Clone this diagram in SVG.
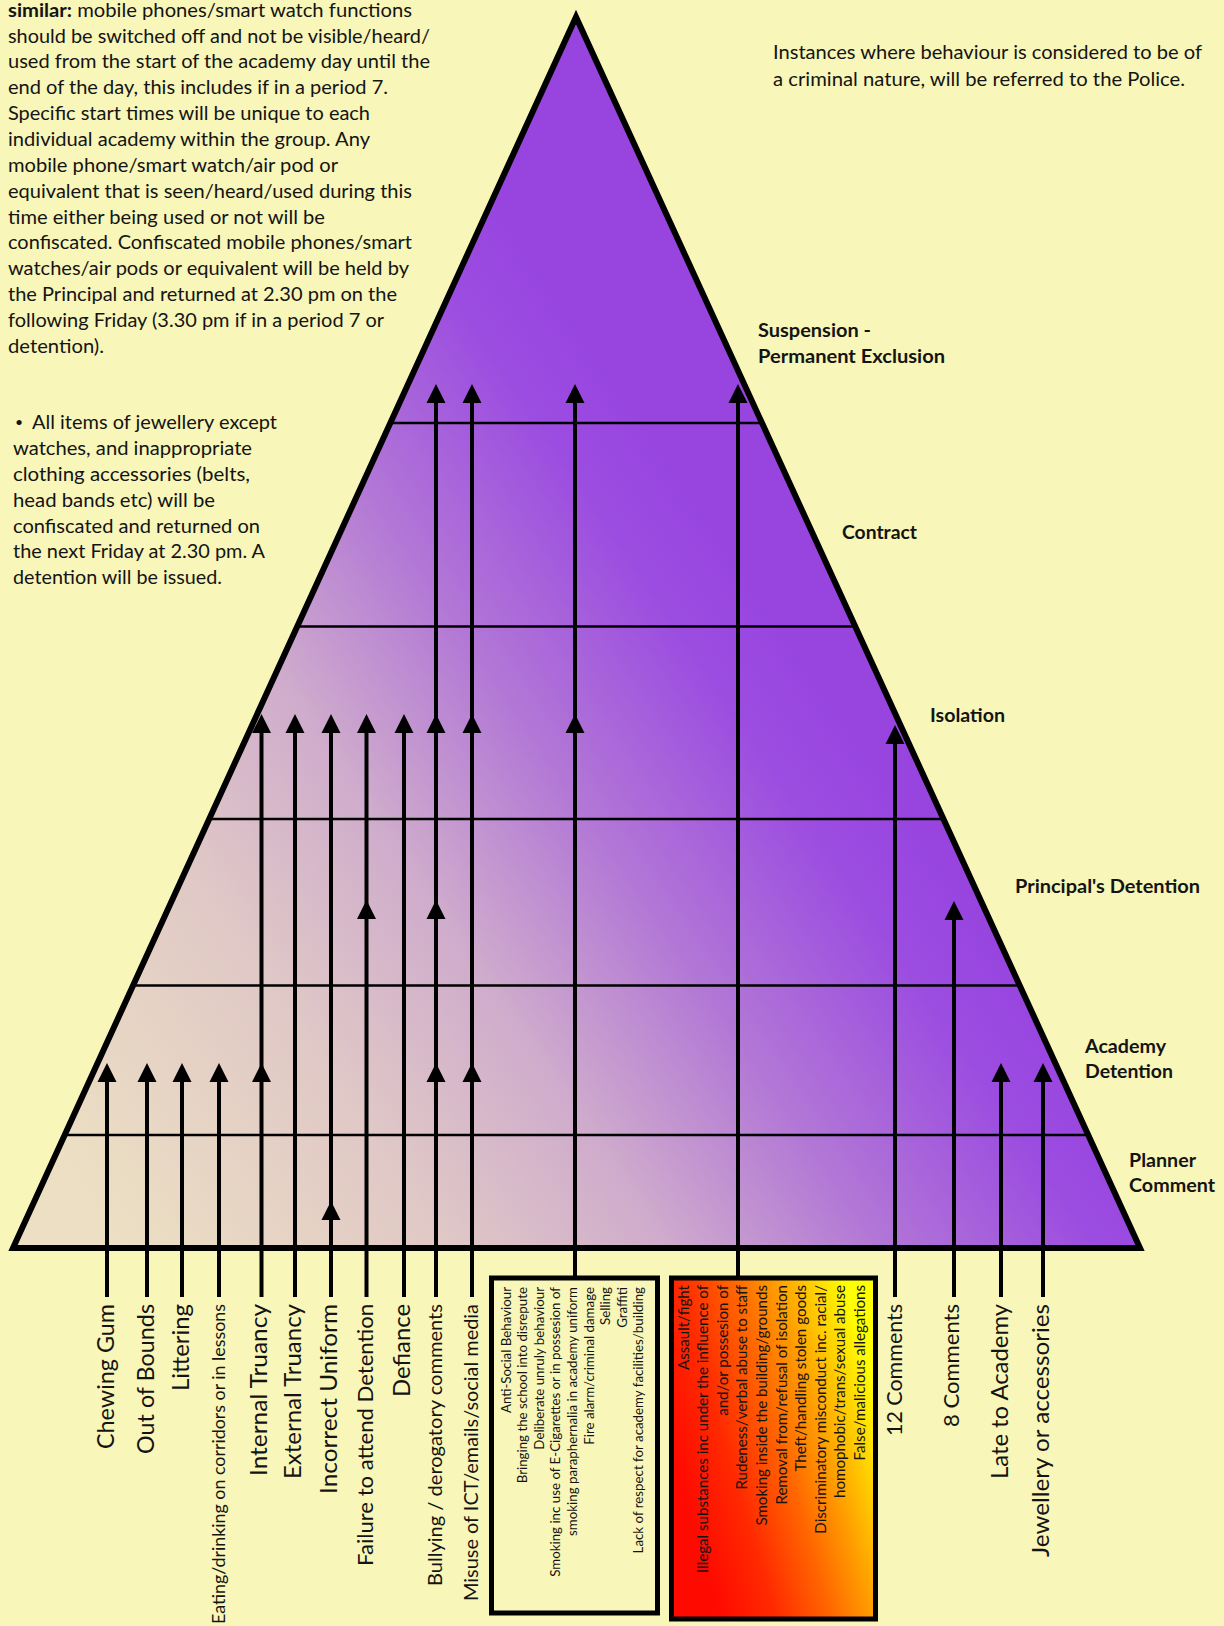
<svg xmlns="http://www.w3.org/2000/svg" xmlns:xlink="http://www.w3.org/1999/xlink" width="1224" height="1626" viewBox="0 0 1224 1626">
<style>
.t{font-family:Lato,'Liberation Sans',sans-serif;fill:#141414}
.p{font-size:19.5px}
.b{font-size:19.5px;font-weight:bold}
.v{text-anchor:end}
.big{font-size:23.7px}
.s1{font-size:13.3px}
.s2{font-size:15.1px}
.lvl{fill:none;stroke:#000;stroke-width:2.5}
.con line{stroke:#000;stroke-width:4}
.box{stroke:#000;stroke-width:5}
</style>
<defs>
<linearGradient id="pyr" gradientUnits="userSpaceOnUse" x1="60" y1="1150" x2="800" y2="650">
<stop offset="0" stop-color="#ecdfc3"/>
<stop offset="0.3" stop-color="#e0c8c6"/>
<stop offset="0.5" stop-color="#cfaccc"/>
<stop offset="0.7" stop-color="#b277d6"/>
<stop offset="0.9" stop-color="#9c4de0"/>
<stop offset="1" stop-color="#9845e0"/>
</linearGradient>
<linearGradient id="hot" gradientUnits="userSpaceOnUse" x1="671" y1="1450" x2="876" y2="1390">
<stop offset="0" stop-color="#ff0a00"/>
<stop offset="0.25" stop-color="#ff2a00"/>
<stop offset="0.5" stop-color="#ff6600"/>
<stop offset="0.7" stop-color="#ffa000"/>
<stop offset="0.85" stop-color="#ffd000"/>
<stop offset="1" stop-color="#ffff00"/>
</linearGradient>
<path id="ah" d="M0 0 L9.5 19 L-9.5 19 Z" fill="#000"/>
</defs>
<rect width="1224" height="1626" fill="#f8f6b8"/>

<g id="notes" class="t">
<text class="p" x="8" y="16.7" textLength="404" lengthAdjust="spacingAndGlyphs"><tspan font-weight="bold">similar:</tspan> mobile phones/smart watch functions</text>
<text class="p" x="8" y="42.55" textLength="422" lengthAdjust="spacingAndGlyphs">should be switched off and not be visible/heard/</text>
<text class="p" x="8" y="68.4" textLength="422" lengthAdjust="spacingAndGlyphs">used from the start of the academy day until the</text>
<text class="p" x="8" y="94.25" textLength="380" lengthAdjust="spacingAndGlyphs">end of the day, this includes if in a period 7.</text>
<text class="p" x="8" y="120.1" textLength="362" lengthAdjust="spacingAndGlyphs">Specific start times will be unique to each</text>
<text class="p" x="8" y="145.95" textLength="362" lengthAdjust="spacingAndGlyphs">individual academy within the group. Any</text>
<text class="p" x="8" y="171.8" textLength="330" lengthAdjust="spacingAndGlyphs">mobile phone/smart watch/air pod or</text>
<text class="p" x="8" y="197.65" textLength="404" lengthAdjust="spacingAndGlyphs">equivalent that is seen/heard/used during this</text>
<text class="p" x="8" y="223.5" textLength="317" lengthAdjust="spacingAndGlyphs">time either being used or not will be</text>
<text class="p" x="8" y="249.35" textLength="404" lengthAdjust="spacingAndGlyphs">confiscated. Confiscated mobile phones/smart</text>
<text class="p" x="8" y="275.2" textLength="401" lengthAdjust="spacingAndGlyphs">watches/air pods or equivalent will be held by</text>
<text class="p" x="8" y="301.05" textLength="389" lengthAdjust="spacingAndGlyphs">the Principal and returned at 2.30 pm on the</text>
<text class="p" x="8" y="326.9" textLength="376" lengthAdjust="spacingAndGlyphs">following Friday (3.30 pm if in a period 7 or</text>
<text class="p" x="8" y="352.75" textLength="96" lengthAdjust="spacingAndGlyphs">detention).</text>

<text x="15" y="427" font-size="14">•</text>
<text class="p" x="32" y="429.3" textLength="245" lengthAdjust="spacingAndGlyphs">All items of jewellery except</text>
<text class="p" x="13" y="455.1" textLength="239" lengthAdjust="spacingAndGlyphs">watches, and inappropriate</text>
<text class="p" x="13" y="480.9" textLength="237" lengthAdjust="spacingAndGlyphs">clothing accessories (belts,</text>
<text class="p" x="13" y="506.7" textLength="202" lengthAdjust="spacingAndGlyphs">head bands etc) will be</text>
<text class="p" x="13" y="532.5" textLength="247" lengthAdjust="spacingAndGlyphs">confiscated and returned on</text>
<text class="p" x="13" y="558.3" textLength="252" lengthAdjust="spacingAndGlyphs">the next Friday at 2.30 pm. A</text>
<text class="p" x="13" y="584.1" textLength="209" lengthAdjust="spacingAndGlyphs">detention will be issued.</text>

<text class="p" x="773" y="59" textLength="429" lengthAdjust="spacingAndGlyphs">Instances where behaviour is considered to be of</text>
<text class="p" x="773" y="85.5" textLength="412" lengthAdjust="spacingAndGlyphs">a criminal nature, will be referred to the Police.</text>
</g>

<g id="pyramid">
<polygon points="576,17 13,1248 1140,1248" fill="url(#pyr)" stroke="#000" stroke-width="6" stroke-linejoin="miter"/>
<line class="lvl" x1="390.3" y1="423" x2="762" y2="423"/>
<line class="lvl" x1="297.2" y1="626.5" x2="855.3" y2="626.5"/>
<line class="lvl" x1="209.2" y1="819" x2="943.5" y2="819"/>
<line class="lvl" x1="133" y1="985.5" x2="1019.8" y2="985.5"/>
<line class="lvl" x1="64.6" y1="1135" x2="1088.3" y2="1135"/>
</g>

<g id="level-labels" class="t b">
<g id="lvl-suspension"><text x="758" y="336.7" textLength="113" lengthAdjust="spacingAndGlyphs">Suspension -</text>
<text x="758" y="362.7" textLength="187" lengthAdjust="spacingAndGlyphs">Permanent Exclusion</text></g>
<g id="lvl-contract"><text x="842" y="539" textLength="75" lengthAdjust="spacingAndGlyphs">Contract</text></g>
<g id="lvl-isolation"><text x="930" y="722.3" textLength="75" lengthAdjust="spacingAndGlyphs">Isolation</text></g>
<g id="lvl-principal"><text x="1015" y="892.7" textLength="185" lengthAdjust="spacingAndGlyphs">Principal's Detention</text></g>
<g id="lvl-academy"><text x="1085" y="1052.7" textLength="81" lengthAdjust="spacingAndGlyphs">Academy</text>
<text x="1085" y="1078.3" textLength="88" lengthAdjust="spacingAndGlyphs">Detention</text></g>
<g id="lvl-planner"><text x="1129" y="1166.7" textLength="67" lengthAdjust="spacingAndGlyphs">Planner</text>
<text x="1129" y="1191.7" textLength="86" lengthAdjust="spacingAndGlyphs">Comment</text></g>
</g>

<g id="connectors" class="con">
<line x1="107" y1="1297" x2="107" y2="1070"/>
<line x1="147" y1="1297" x2="147" y2="1070"/>
<line x1="182" y1="1297" x2="182" y2="1070"/>
<line x1="219" y1="1297" x2="219" y2="1070"/>
<line x1="261.5" y1="1297" x2="261.5" y2="721"/>
<line x1="295" y1="1297" x2="295" y2="721"/>
<line x1="331" y1="1297" x2="331" y2="721"/>
<line x1="366.5" y1="1297" x2="366.5" y2="721"/>
<line x1="404" y1="1297" x2="404" y2="721"/>
<line x1="436" y1="1297" x2="436" y2="391"/>
<line x1="472" y1="1297" x2="472" y2="391"/>
<line x1="575" y1="1278" x2="575" y2="391"/>
<line x1="738" y1="1278" x2="738" y2="391"/>
<line x1="895" y1="1297" x2="895" y2="732"/>
<line x1="954" y1="1297" x2="954" y2="908"/>
<line x1="1001" y1="1297" x2="1001" y2="1070"/>
<line x1="1043" y1="1297" x2="1043" y2="1070"/>
<use href="#ah" x="107" y="1063"/>
<use href="#ah" x="147" y="1063"/>
<use href="#ah" x="182" y="1063"/>
<use href="#ah" x="219" y="1063"/>
<use href="#ah" x="261.5" y="1063"/>
<use href="#ah" x="261.5" y="714"/>
<use href="#ah" x="295" y="714"/>
<use href="#ah" x="331" y="1201"/>
<use href="#ah" x="331" y="714"/>
<use href="#ah" x="366.5" y="900"/>
<use href="#ah" x="366.5" y="714"/>
<use href="#ah" x="404" y="714"/>
<use href="#ah" x="436" y="1063"/>
<use href="#ah" x="436" y="900"/>
<use href="#ah" x="436" y="714"/>
<use href="#ah" x="436" y="384"/>
<use href="#ah" x="472" y="1063"/>
<use href="#ah" x="472" y="714"/>
<use href="#ah" x="472" y="384"/>
<use href="#ah" x="575" y="714"/>
<use href="#ah" x="575" y="384"/>
<use href="#ah" x="738" y="384"/>
<use href="#ah" x="895" y="725"/>
<use href="#ah" x="954" y="901"/>
<use href="#ah" x="1001" y="1063"/>
<use href="#ah" x="1043" y="1063"/>
</g>

<g id="behaviours" class="t v">
<g id="n-chewing"><text class="big" transform="translate(114,1304) rotate(-90)" textLength="145" lengthAdjust="spacingAndGlyphs">Chewing Gum</text></g>
<g id="n-bounds"><text class="big" transform="translate(154,1304) rotate(-90)" textLength="150" lengthAdjust="spacingAndGlyphs">Out of Bounds</text></g>
<g id="n-littering"><text class="big" transform="translate(189,1304) rotate(-90)" textLength="87" lengthAdjust="spacingAndGlyphs">Littering</text></g>
<g id="n-eating"><text font-size="18" transform="translate(224.5,1304) rotate(-90)" textLength="320" lengthAdjust="spacingAndGlyphs">Eating/drinking on corridors or in lessons</text></g>
<g id="n-internal"><text class="big" transform="translate(267,1304) rotate(-90)" textLength="172" lengthAdjust="spacingAndGlyphs">Internal Truancy</text></g>
<g id="n-external"><text class="big" transform="translate(300.5,1304) rotate(-90)" textLength="175" lengthAdjust="spacingAndGlyphs">External Truancy</text></g>
<g id="n-uniform"><text class="big" transform="translate(337,1304) rotate(-90)" textLength="190" lengthAdjust="spacingAndGlyphs">Incorrect Uniform</text></g>
<g id="n-failure"><text font-size="21.8" transform="translate(372.5,1304) rotate(-90)" textLength="262" lengthAdjust="spacingAndGlyphs">Failure to attend Detention</text></g>
<g id="n-defiance"><text class="big" transform="translate(410,1304) rotate(-90)" textLength="93" lengthAdjust="spacingAndGlyphs">Defiance</text></g>
<g id="n-bullying"><text font-size="20" transform="translate(442,1304) rotate(-90)" textLength="282" lengthAdjust="spacingAndGlyphs">Bullying / derogatory comments</text></g>
<g id="n-misuse"><text font-size="20" transform="translate(477.5,1304) rotate(-90)" textLength="297" lengthAdjust="spacingAndGlyphs">Misuse of ICT/emails/social media</text></g>
<g id="n-12comments"><text font-size="21.8" transform="translate(902,1304) rotate(-90)" textLength="132" lengthAdjust="spacingAndGlyphs">12 Comments</text></g>
<g id="n-8comments"><text font-size="22" transform="translate(959,1304) rotate(-90)" textLength="123" lengthAdjust="spacingAndGlyphs">8 Comments</text></g>
<g id="n-late"><text class="big" transform="translate(1007.5,1304) rotate(-90)" textLength="175" lengthAdjust="spacingAndGlyphs">Late to Academy</text></g>
<g id="n-jewellery"><text class="big" transform="translate(1049,1304) rotate(-90)" textLength="253" lengthAdjust="spacingAndGlyphs">Jewellery or accessories</text></g>

<g id="n-group-isolation">
<rect class="box" x="491.5" y="1278" width="166" height="335" fill="#f8f6b8"/>
<text class="s1" transform="translate(510.5,1287) rotate(-90)">Anti-Social Behaviour</text>
<text class="s1" transform="translate(527.1,1287) rotate(-90)">Bringing the school into disrepute</text>
<text class="s1" transform="translate(543.7,1287) rotate(-90)">Deliberate unruly behaviour</text>
<text class="s1" transform="translate(560.3,1287) rotate(-90)">Smoking inc use of E-Cigarettes or in possesion of</text>
<text class="s1" transform="translate(576.9,1287) rotate(-90)">smoking paraphernalia in academy uniform</text>
<text class="s1" transform="translate(593.5,1287) rotate(-90)">Fire alarm/criminal damage</text>
<text class="s1" transform="translate(610.1,1287) rotate(-90)">Selling</text>
<text class="s1" transform="translate(626.7,1287) rotate(-90)">Graffiti</text>
<text class="s1" transform="translate(643.3,1287) rotate(-90)">Lack of respect for academy facilities/building</text>
</g>

<g id="n-group-suspension">
<rect class="box" x="671.5" y="1278" width="204" height="341" fill="url(#hot)"/>
<text class="s2" transform="translate(688.5,1285) rotate(-90)">Assault/fight</text>
<text class="s2" transform="translate(708.1,1285) rotate(-90)">Illegal substances inc under the influence of</text>
<text class="s2" transform="translate(727.7,1285) rotate(-90)">and/or possesion of</text>
<text class="s2" transform="translate(747.3,1285) rotate(-90)">Rudeness/verbal abuse to staff</text>
<text class="s2" transform="translate(766.9,1285) rotate(-90)">Smoking inside the building/grounds</text>
<text class="s2" transform="translate(786.5,1285) rotate(-90)">Removal from/refusal of isolation</text>
<text class="s2" transform="translate(806.1,1285) rotate(-90)">Theft/handling stolen goods</text>
<text class="s2" transform="translate(825.7,1285) rotate(-90)">Discriminatory misconduct inc. racial/</text>
<text class="s2" transform="translate(845.3,1285) rotate(-90)">homophobic/trans/sexual abuse</text>
<text class="s2" transform="translate(864.9,1285) rotate(-90)">False/malicious allegations</text>
</g>
</g>
</svg>
